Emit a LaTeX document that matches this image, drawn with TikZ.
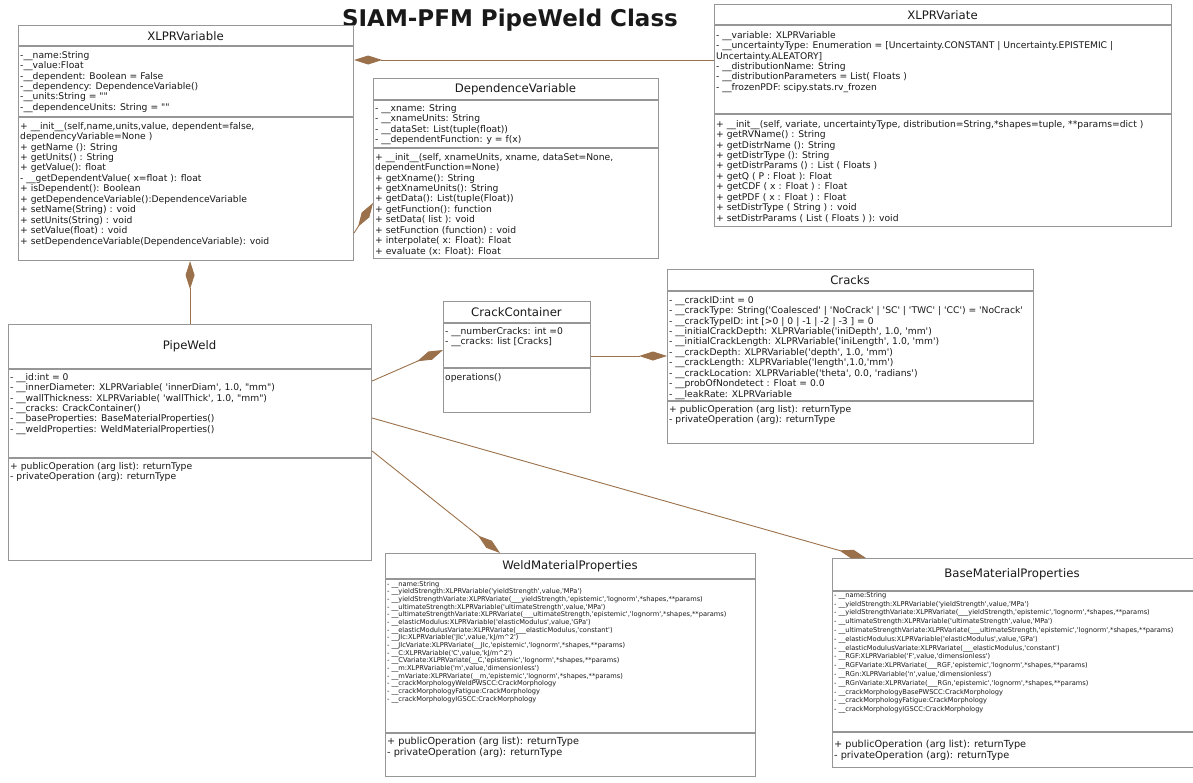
\documentclass[tikz,border=0pt]{standalone}
\usepackage{fontspec}
\setmainfont{DejaVu Sans}[Ligatures=TeXOff]
\usetikzlibrary{arrows.meta}
\definecolor{umlline}{RGB}{150,150,150}
\definecolor{assoc}{RGB}{155,113,75}
\definecolor{umltext}{RGB}{25,25,25}
\tikzset{
  cls/.style={draw=umlline, line width=1.1pt, fill=white, inner sep=0pt, anchor=north west},
  sep/.style={draw=umlline, line width=1.1pt},
  cname/.style={font=\fontsize{11.7}{14}\selectfont, text=umltext, inner sep=0pt},
  members/.style={font=\fontsize{9.2}{10.45}\selectfont, text=umltext, align=left, anchor=north west, inner sep=0pt},
  bigops/.style={font=\fontsize{9.7}{11}\selectfont, text=umltext, align=left, anchor=north west, inner sep=0pt},
  weldlist/.style={font=\fontsize{6.65}{7.65}\selectfont, text=umltext, align=left, anchor=north west, inner sep=0pt},
  baselist/.style={font=\fontsize{6.65}{8.8}\selectfont, text=umltext, align=left, anchor=north west, inner sep=0pt},
  comp/.style={draw=assoc, line width=0.9pt, -{Diamond[length=28pt,width=9pt]}},
}
\begin{document}
\begin{tikzpicture}[x=1pt,y=-1pt]
\useasboundingbox (0,0) rectangle (1193,782);

% heading
\node[font=\fontsize{23}{26}\selectfont\bfseries, text=umltext, inner sep=0pt] (heading) at (510,20) {SIAM-PFM PipeWeld Class};

% ---------- XLPRVariable ----------
\node[cls, minimum width=335pt, minimum height=235pt] (xv) at (18,25) {};
\draw[sep] (xv.west |- 0,46) -- (xv.east |- 0,46);
\draw[sep] (xv.west |- 0,117) -- (xv.east |- 0,117);
\node[cname] (xv-name) at (185.5,36) {XLPRVariable};
\node[members] (xv-attr) at (20,51) {-\_\_name:String\\
-\_\_value:Float\\
-\_\_dependent: Boolean = False\\
-\_\_dependency: DependenceVariable()\\
-\_\_units:String = ""\\
-\_\_dependenceUnits: String = ""};
\node[members] (xv-ops) at (20,122) {+ \_\_init\_\_(self,name,units,value, dependent=false,\\
dependencyVariable=None )\\
+ getName (): String\\
+ getUnits() : String\\
+ getValue(): float\\
- \_\_getDependentValue( x=float ): float\\
+ isDependent(): Boolean\\
+ getDependenceVariable():DependenceVariable\\
+ setName(String) : void\\
+ setUnits(String) : void\\
+ setValue(float) : void\\
+ setDependenceVariable(DependenceVariable): void};

% ---------- DependenceVariable ----------
\node[cls, minimum width=285pt, minimum height=180pt] (dv) at (373,78) {};
\draw[sep] (dv.west |- 0,100) -- (dv.east |- 0,100);
\draw[sep] (dv.west |- 0,148) -- (dv.east |- 0,148);
\node[cname] (dv-name) at (515.5,89) {DependenceVariable};
\node[members] (dv-attr) at (375,104) {- \_\_xname: String\\
- \_\_xnameUnits: String\\
- \_\_dataSet: List(tuple(float))\\
- \_\_dependentFunction: y = f(x)};
\node[members] (dv-ops) at (375,153) {+ \_\_init\_\_(self, xnameUnits, xname, dataSet=None,\\
dependentFunction=None)\\
+ getXname(): String\\
+ getXnameUnits(): String\\
+ getData(): List(tuple(Float))\\
+ getFunction(): function\\
+ setData( list ): void\\
+ setFunction (function) : void\\
+ interpolate( x: Float): Float\\
+ evaluate (x: Float): Float};

% ---------- XLPRVariate ----------
\node[cls, minimum width=457pt, minimum height=222pt] (xvt) at (714,4) {};
\draw[sep] (xvt.west |- 0,25) -- (xvt.east |- 0,25);
\draw[sep] (xvt.west |- 0,114) -- (xvt.east |- 0,114);
\node[cname] (xvt-name) at (942.5,15) {XLPRVariate};
\node[members] (xvt-attr) at (716,31) {- \_\_variable: XLPRVariable\\
- \_\_uncertaintyType: Enumeration = [Uncertainty.CONSTANT | Uncertainty.EPISTEMIC |\\
Uncertainty.ALEATORY]\\
- \_\_distributionName: String\\
- \_\_distributionParameters = List( Floats )\\
- \_\_frozenPDF: scipy.stats.rv\_frozen};
\node[members] (xvt-ops) at (716,120) {+ \_\_init\_\_(self, variate, uncertaintyType, distribution=String,*shapes=tuple, **params=dict )\\
+ getRVName() : String\\
+ getDistrName (): String\\
+ getDistrType (): String\\
+ getDistrParams () : List ( Floats )\\
+ getQ ( P : Float ): Float\\
+ getCDF ( x : Float ) : Float\\
+ getPDF ( x : Float ) : Float\\
+ setDistrType ( String ) : void\\
+ setDistrParams ( List ( Floats ) ): void};

% ---------- Cracks ----------
\node[cls, minimum width=366pt, minimum height=174pt] (cr) at (667,269) {};
\draw[sep] (cr.west |- 0,291) -- (cr.east |- 0,291);
\draw[sep] (cr.west |- 0,401) -- (cr.east |- 0,401);
\node[cname] (cr-name) at (850,280) {Cracks};
\node[members] (cr-attr) at (669,296) {- \_\_crackID:int = 0\\
- \_\_crackType: String('Coalesced' | 'NoCrack' | 'SC' | 'TWC' | 'CC') = 'NoCrack'\\
- \_\_crackTypeID: int [>0 | 0 | -1 | -2 | -3 ] = 0\\
- \_\_initialCrackDepth: XLPRVariable('iniDepth', 1.0, 'mm')\\
- \_\_initialCrackLength: XLPRVariable('iniLength', 1.0, 'mm')\\
- \_\_crackDepth: XLPRVariable('depth', 1.0, 'mm')\\
- \_\_crackLength: XLPRVariable('length',1.0,'mm')\\
- \_\_crackLocation: XLPRVariable('theta', 0.0, 'radians')\\
- \_\_probOfNondetect : Float = 0.0\\
- \_\_leakRate: XLPRVariable};
\node[members] (cr-ops) at (669,405) {+ publicOperation (arg list): returnType\\
- privateOperation (arg): returnType};

% ---------- CrackContainer ----------
\node[cls, minimum width=147pt, minimum height=111pt] (cc) at (443,301) {};
\draw[sep] (cc.west |- 0,323) -- (cc.east |- 0,323);
\draw[sep] (cc.west |- 0,368) -- (cc.east |- 0,368);
\node[cname] (cc-name) at (516.5,312) {CrackContainer};
\node[members] (cc-attr) at (445,327) {- \_\_numberCracks: int =0\\
- \_\_cracks: list [Cracks]};
\node[members] (cc-ops) at (445,373) {operations()};

% ---------- PipeWeld ----------
\node[cls, minimum width=363pt, minimum height=236pt] (pw) at (8,324) {};
\draw[sep] (pw.west |- 0,369) -- (pw.east |- 0,369);
\draw[sep] (pw.west |- 0,458) -- (pw.east |- 0,458);
\node[cname] (pw-name) at (189.5,346) {PipeWeld};
\node[members] (pw-attr) at (10,373) {- \_\_id:int = 0\\
- \_\_innerDiameter: XLPRVariable( 'innerDiam', 1.0, "mm")\\
- \_\_wallThickness: XLPRVariable( 'wallThick', 1.0, "mm")\\
- \_\_cracks: CrackContainer()\\
- \_\_baseProperties: BaseMaterialProperties()\\
- \_\_weldProperties: WeldMaterialProperties()};
\node[members] (pw-ops) at (10,462) {+ publicOperation (arg list): returnType\\
- privateOperation (arg): returnType};

% ---------- WeldMaterialProperties ----------
\node[cls, minimum width=370pt, minimum height=223pt] (wm) at (385,553) {};
\draw[sep] (wm.west |- 0,579) -- (wm.east |- 0,579);
\draw[sep] (wm.west |- 0,733) -- (wm.east |- 0,733);
\node[cname] (wm-name) at (570,566.5) {WeldMaterialProperties};
\node[weldlist] (wm-attr) at (387,581) {- \_\_name:String\\
- \_\_yieldStrength:XLPRVariable('yieldStrength',value,'MPa')\\
- \_\_yieldStrengthVariate:XLPRVariate(\_\_\_yieldStrength,'epistemic','lognorm',*shapes,**params)\\
- \_\_ultimateStrength:XLPRVariable('ultimateStrength',value,'MPa')\\
- \_\_ultimateStrengthVariate:XLPRVariate(\_\_\_ultimateStrength,'epistemic','lognorm',*shapes,**params)\\
- \_\_elasticModulus:XLPRVariable('elasticModulus',value,'GPa')\\
- \_\_elasticModulusVariate:XLPRVariate(\_\_\_elasticModulus,'constant')\\
- \_\_JIc:XLPRVariable('JIc',value,'kJ/m\textasciicircum 2')\\
- \_\_JIcVariate:XLPRVariate(\_\_JIc,'epistemic','lognorm',*shapes,**params)\\
- \_\_C:XLPRVariable('C',value,'kJ/m\textasciicircum 2')\\
- \_\_CVariate:XLPRVariate(\_\_C,'epistemic','lognorm',*shapes,**params)\\
- \_\_m:XLPRVariable('m',value,'dimensionless')\\
- \_\_mVariate:XLPRVariate(\_\_m,'epistemic','lognorm',*shapes,**params)\\
- \_\_crackMorphologyWeldPWSCC:CrackMorphology\\
- \_\_crackMorphologyFatigue:CrackMorphology\\
- \_\_crackMorphologyIGSCC:CrackMorphology};
\node[bigops] (wm-ops) at (387,737) {+ publicOperation (arg list): returnType\\
- privateOperation (arg): returnType};

% ---------- BaseMaterialProperties ----------
\node[cls, minimum width=360.5pt, minimum height=209pt] (bm) at (832,558) {};
\draw[sep] (bm.west |- 0,591) -- (bm.east |- 0,591);
\draw[sep] (bm.west |- 0,732) -- (bm.east |- 0,732);
\node[cname] (bm-name) at (1012,574.5) {BaseMaterialProperties};
\node[baselist] (bm-attr) at (834,592) {- \_\_name:String\\
- \_\_yieldStrength:XLPRVariable('yieldStrength',value,'MPa')\\
- \_\_yieldStrengthVariate:XLPRVariate(\_\_\_yieldStrength,'epistemic','lognorm',*shapes,**params)\\
- \_\_ultimateStrength:XLPRVariable('ultimateStrength',value,'MPa')\\
- \_\_ultimateStrengthVariate:XLPRVariate(\_\_\_ultimateStrength,'epistemic','lognorm',*shapes,**params)\\
- \_\_elasticModulus:XLPRVariable('elasticModulus',value,'GPa')\\
- \_\_elasticModulusVariate:XLPRVariate(\_\_\_elasticModulus,'constant')\\
- \_\_RGF:XLPRVariable('F',value,'dimensionless')\\
- \_\_RGFVariate:XLPRVariate(\_\_\_RGF,'epistemic','lognorm',*shapes,**params)\\
- \_\_RGn:XLPRVariable('n',value,'dimensionless')\\
- \_\_RGnVariate:XLPRVariate(\_\_\_RGn,'epistemic','lognorm',*shapes,**params)\\
- \_\_crackMorphologyBasePWSCC:CrackMorphology\\
- \_\_crackMorphologyFatigue:CrackMorphology\\
- \_\_crackMorphologyIGSCC:CrackMorphology};
\node[bigops] (bm-ops) at (834,740) {+ publicOperation (arg list): returnType\\
- privateOperation (arg): returnType};

% ---------- composition links (diamond on the owning class) ----------
\draw[comp] ([yshift=-56pt]xvt.north west) -- ([yshift=-35pt]xv.north east);
\draw[comp] ([yshift=-208pt]xv.north east) -- ([yshift=-125pt]dv.north west);
\draw[comp] (pw.north) -- (pw.north |- xv.south);
\draw[comp] ([yshift=-57pt]pw.north east) -- ([yshift=-49pt]cc.north west);
\draw[comp] ([yshift=-55pt]cc.north east) -- ([yshift=-87pt]cr.north west);
\draw[comp] ([yshift=-127pt]pw.north east) -- ([xshift=115pt]wm.north west);
\draw[comp] ([yshift=-94pt]pw.north east) -- ([xshift=34pt]bm.north west);
\end{tikzpicture}
\end{document}
